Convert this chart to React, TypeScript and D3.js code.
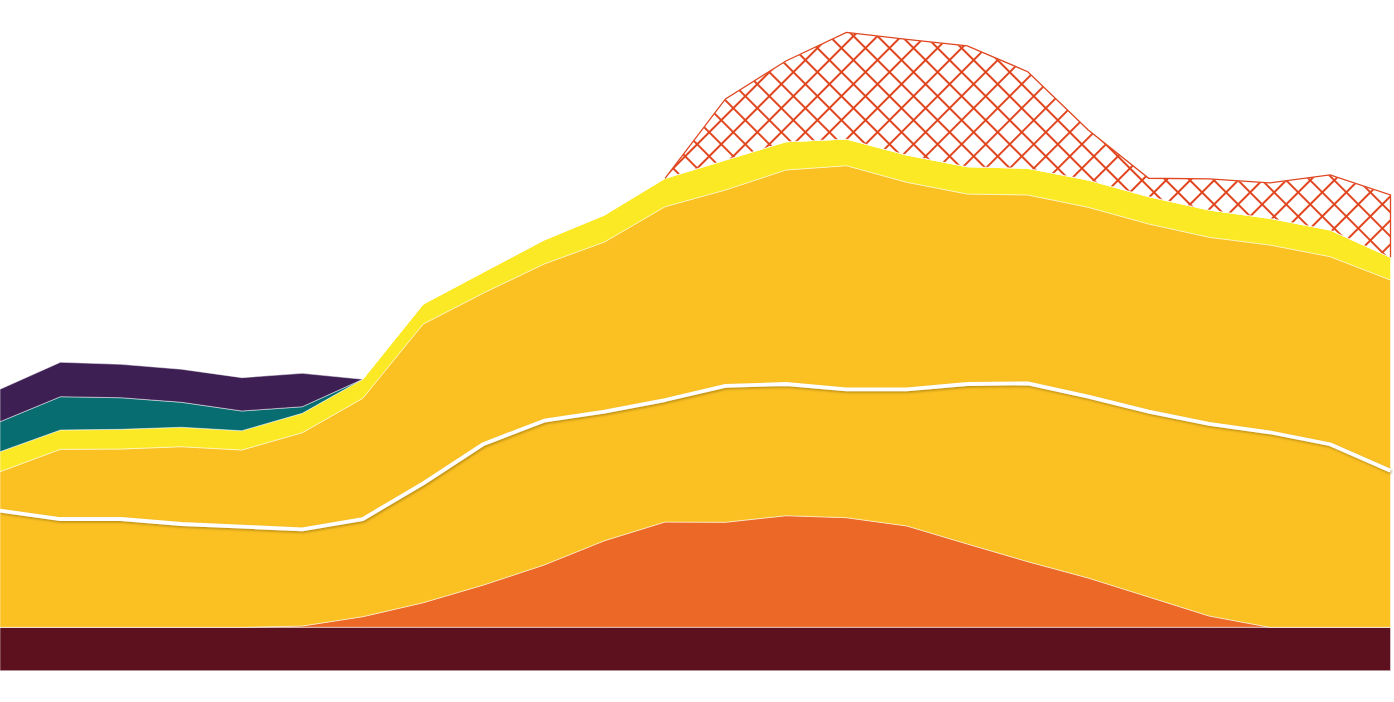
import { useEffect, useRef } from 'react';
import * as d3 from 'd3';

// hours of the day, one point each
const hours = [
  '00:00', '01:00', '02:00', '03:00', '04:00', '05:00', '06:00', '07:00',
  '08:00', '09:00', '10:00', '11:00', '12:00', '13:00', '14:00', '15:00',
  '16:00', '17:00', '18:00', '19:00', '20:00', '21:00', '22:00', '23:00',
];

const baseLoad = [
  6.8, 6.8, 6.8, 6.8, 6.8, 6.8, 6.8, 6.8, 6.8, 6.8, 6.8, 6.8,
  6.8, 6.8, 6.8, 6.8, 6.8, 6.8, 6.8, 6.8, 6.8, 6.8, 6.8, 6.8,
];
const solar = [
  0, 0, 0, 0, 0, 0.2, 1.66, 3.85, 6.63, 9.76, 13.57, 16.49,
  16.45, 17.48, 17.17, 15.87, 13.05, 10.28, 7.72, 4.75, 1.77, 0, 0, 0,
];
const lowerBand = [
  18.26, 16.96, 16.96, 16.18, 15.76, 15.15, 15.3, 18.7, 22.09, 22.6, 20.21, 19.11,
  21.35, 20.63, 20.11, 21.41, 25.06, 27.94, 28.4, 29.03, 30.08, 30.55, 28.67, 24.53,
];
const upperBand = [
  6.11, 10.92, 10.96, 12.11, 12.01, 15.13, 18.91, 24.95, 23.65, 24.55, 26.58, 30.28,
  30.7, 33.52, 35.03, 32.42, 29.76, 29.5, 29.67, 29.4, 29.24, 29.34, 29.39, 29.87,
];
const brightBand = [
  3.13, 3.02, 3.09, 3.04, 3.02, 3.04, 2.98, 3.13, 3.29, 3.76, 4.23, 4.45,
  4.7, 4.43, 4.18, 4.28, 4.28, 4.18, 4.28, 4.28, 4.28, 4.18, 4.18, 3.56,
];
const tealBand = [
  4.7, 5.22, 4.95, 3.92, 3.09, 1.03, 0, 0, 0, 0, 0, 0,
  0, 0, 0, 0, 0, 0, 0, 0, 0, 0, 0, 0,
];
const purpleBand = [
  5.08, 5.39, 5.23, 5.17, 5.22, 5.23, 0, 0, 0, 0, 0, 0,
  0, 0, 0, 0, 0, 0, 0, 0, 0, 0, 0, 0,
];
const hatchBand = [
  0, 0, 0, 0, 0, 0, 0, 0, 0, 0, 0, 0,
  9.56, 12.64, 16.71, 18.12, 18.91, 15.13, 7.83, 2.88, 4.86, 5.53, 8.62, 9.76,
];

const keys = ['base', 'solar', 'lower', 'upper', 'bright', 'teal', 'purple', 'hatch'];
const colors: Record<string, string> = {
  base: '#5d111e',
  solar: '#ec6826',
  lower: '#fbc123',
  upper: '#fbc123',
  bright: '#fce925',
  teal: '#076d70',
  purple: '#3d1f54',
};

export default function App() {
  const svgRef = useRef<SVGSVGElement>(null);

  useEffect(() => {
    if (!svgRef.current) return;
    const svg = d3.select(svgRef.current);
    svg.selectAll('*').remove();

    const width = 1394;
    const height = 702;
    const margin = { top: 32.3, right: 3.5, bottom: 31.3, left: 0 };

    const rows = hours.map((h, i) => ({
      hour: h,
      base: baseLoad[i],
      solar: solar[i],
      lower: lowerBand[i],
      upper: upperBand[i],
      bright: brightBand[i],
      teal: tealBand[i],
      purple: purpleBand[i],
      hatch: hatchBand[i],
    }));

    const series = d3.stack<any>().keys(keys)(rows);

    const x = d3
      .scalePoint()
      .domain(hours)
      .range([margin.left, width - margin.right]);
    const y = d3
      .scaleLinear()
      .domain([0, d3.max(series[series.length - 1], (d) => d[1])!])
      .range([height - margin.bottom, margin.top]);

    const area = d3
      .area<any>()
      .x((d) => x(d.data.hour)!)
      .y0((d) => y(d[0]))
      .y1((d) => y(d[1]));

    const defs = svg.append('defs');
    const pat = defs
      .append('pattern')
      .attr('id', 'xhatch')
      .attr('patternUnits', 'userSpaceOnUse')
      .attr('width', 17)
      .attr('height', 17)
      .attr('patternTransform', 'rotate(45)');
    pat
      .append('path')
      .attr('d', 'M0,0H17M0,17H17M0,0V17M17,0V17')
      .attr('stroke', '#e0461f')
      .attr('stroke-width', 2);

    const shadow = defs
      .append('filter')
      .attr('id', 'shadow')
      .attr('x', '-5%')
      .attr('y', '-50%')
      .attr('width', '110%')
      .attr('height', '200%');
    shadow
      .append('feDropShadow')
      .attr('dx', 1)
      .attr('dy', 1.5)
      .attr('stdDeviation', 0.8)
      .attr('flood-color', '#7a5a00')
      .attr('flood-opacity', 0.5);

    const g = svg.append('g');

    g.selectAll('path.layer')
      .data(series.filter((s) => s.key !== 'hatch'))
      .join('path')
      .attr('class', 'layer')
      .attr('d', area)
      .attr('fill', (s) => colors[s.key])
      .attr('stroke', 'rgba(255,255,255,0.6)')
      .attr('stroke-width', 0.8);

    // white divider between the two yellow bands
    const lowerSeries = series.find((s) => s.key === 'lower')!;
    g.append('path')
      .attr(
        'd',
        d3
          .line<any>()
          .x((d) => x(d.data.hour)!)
          .y((d) => y(d[1]))(lowerSeries)
      )
      .attr('fill', 'none')
      .attr('stroke', '#ffffff')
      .attr('stroke-width', 3.8)
      .attr('stroke-linejoin', 'round')
      .attr('filter', 'url(#shadow)');

    // hatched top band, only where it has values
    const hatchSeries = series.find((s) => s.key === 'hatch')!;
    const first = Math.max(0, hatchBand.findIndex((v) => v > 0) - 1);
    const pts = hatchSeries.slice(first);
    g.append('path')
      .attr('d', area(pts))
      .attr('fill', 'url(#xhatch)')
      .attr('stroke', 'rgba(255,255,255,0.6)')
      .attr('stroke-width', 0.8);

    const last = pts[pts.length - 1];
    const outline = d3
      .line<[number, number]>()
      .x((d) => d[0])
      .y((d) => d[1]);
    g.append('path')
      .attr(
        'd',
        outline([
          ...pts.map((d) => [x(d.data.hour)!, y(d[1])] as [number, number]),
          [x(last.data.hour)!, y(last[0])],
        ])
      )
      .attr('fill', 'none')
      .attr('stroke', '#e0461f')
      .attr('stroke-width', 1.3);
  }, []);

  return (
    <svg
      ref={svgRef}
      width={1394}
      height={702}
      style={{ position: 'absolute', left: 0, top: 0, background: '#fff' }}
    />
  );
}
